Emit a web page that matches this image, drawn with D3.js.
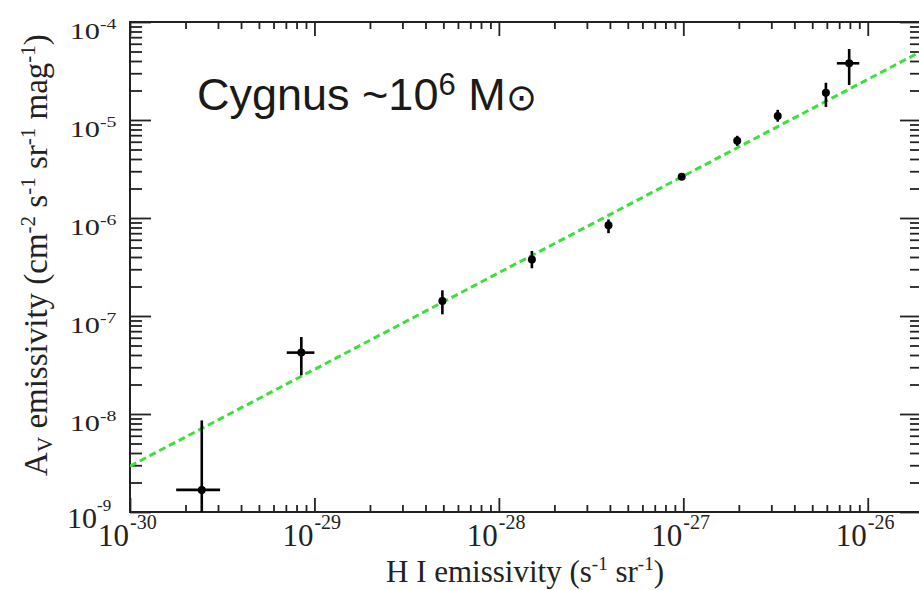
<!DOCTYPE html>
<html><head><meta charset="utf-8">
<script src="https://cdn.jsdelivr.net/npm/d3@7"></script>
<style>body{margin:0;background:#fff}svg{display:block}</style>
</head><body><svg id="c" width="919" height="590"></svg>
<script>
// ---- data ----
const xVals = [2.45e-30, 8.49e-30, 4.94e-29, 1.51e-28, 3.93e-28, 9.8e-28, 1.96e-27, 3.25e-27, 5.93e-27, 7.93e-27];
const yVals = [1.68e-9, 4.23e-8, 1.42e-7, 3.77e-7, 8.44e-7, 2.63e-6, 6.13e-6, 1.10e-5, 1.90e-5, 3.79e-5];
const yLo   = [1e-10, 2.48e-8, 1.04e-7, 3.07e-7, 7.0e-7, 2.44e-6, 5.45e-6, 9.6e-6, 1.36e-5, 2.27e-5];
const yHi   = [8.6e-9, 6.1e-8, 1.83e-7, 4.61e-7, 9.66e-7, 2.84e-6, 6.9e-6, 1.27e-5, 2.40e-5, 5.3e-5];
const xLo   = [1.78e-30, 7.08e-30, null, null, null, null, null, null, null, 6.8e-27];
const xHi   = [3.08e-30, 1.0e-29, null, null, null, null, null, null, null, 9.0e-27];
const fitX  = [1e-30, 1.92e-26];
const fitY  = [2.94e-9, 4.94e-5];
const xExponents = [-30, -29, -28, -27, -26];
const yExponents = [-9, -8, -7, -6, -5, -4];
const xDomain = [1e-30, 1.92e-26];
const yDomain = [1e-9, 1e-4];

// ---- layout ----
const mL = 130, mR = 920, mT = 22, mB = 512;
const x = d3.scaleLog().domain(xDomain).range([mL, mR]);
const y = d3.scaleLog().domain(yDomain).range([mB, mT]);
const svg = d3.select('#c');
const serif = "'Liberation Serif','Times New Roman',serif";
const sans = "'Liberation Sans',Arial,sans-serif";

svg.append('defs').append('clipPath').attr('id', 'clip')
  .append('rect').attr('x', mL).attr('y', mT).attr('width', mR - mL).attr('height', mB - mT);

function minors(dom) {
  const lo = Math.floor(Math.log10(dom[0]) + 1e-9), hi = Math.ceil(Math.log10(dom[1]) - 1e-9);
  const arr = [];
  for (let e = lo; e < hi; e++) for (let m = 2; m <= 9; m++) {
    const v = m * Math.pow(10, e);
    if (v >= dom[0] && v <= dom[1]) arr.push(v);
  }
  return arr;
}
const xMaj = xExponents.map(e => Math.pow(10, e)).filter(v => v <= xDomain[1]);
const yMaj = yExponents.map(e => Math.pow(10, e));
const xMin = minors(xDomain), yMin = minors(yDomain);

function drawAxis(gen, tr, vals, size) {
  const g = svg.append('g').attr('transform', tr)
    .call(gen.tickValues(vals).tickSize(size).tickFormat(''));
  g.select('.domain').remove();
  g.selectAll('line').attr('stroke', '#222').attr('stroke-width', 1.8);
}
drawAxis(d3.axisBottom(x), `translate(0,${mB})`, xMin, -7);
drawAxis(d3.axisBottom(x), `translate(0,${mB})`, xMaj, -14);
drawAxis(d3.axisTop(x), `translate(0,${mT})`, xMin, -7);
drawAxis(d3.axisTop(x), `translate(0,${mT})`, xMaj, -14);
drawAxis(d3.axisLeft(y), `translate(${mL},0)`, yMin, -12);
drawAxis(d3.axisLeft(y), `translate(${mL},0)`, yMaj, -21);
drawAxis(d3.axisRight(y), `translate(${mR},0)`, yMin, -10);
drawAxis(d3.axisRight(y), `translate(${mR},0)`, yMaj, -20);

svg.append('rect').attr('x', mL).attr('y', mT).attr('width', mR - mL).attr('height', mB - mT)
  .attr('fill', 'none').attr('stroke', '#222').attr('stroke-width', 2);

// ---- fit line ----
const plot = svg.append('g').attr('clip-path', 'url(#clip)');
plot.append('path')
  .attr('d', d3.line().x(d => x(d[0])).y(d => y(d[1]))(fitX.map((v, i) => [v, fitY[i]])))
  .attr('stroke', '#3ddf3d').attr('stroke-width', 3).attr('stroke-dasharray', '7,4').attr('fill', 'none');

// ---- error bars & points ----
const pts = xVals.map((v, i) => ({x: v, y: yVals[i], ylo: yLo[i], yhi: yHi[i], xlo: xLo[i], xhi: xHi[i]}));
plot.selectAll('.ey').data(pts).join('line').attr('class', 'ey')
  .attr('x1', d => x(d.x)).attr('x2', d => x(d.x)).attr('y1', d => y(d.ylo)).attr('y2', d => y(d.yhi))
  .attr('stroke', '#000').attr('stroke-width', 2.6);
plot.selectAll('.ex').data(pts.filter(d => d.xlo != null)).join('line').attr('class', 'ex')
  .attr('x1', d => x(d.xlo)).attr('x2', d => x(d.xhi)).attr('y1', d => y(d.y)).attr('y2', d => y(d.y))
  .attr('stroke', '#000').attr('stroke-width', 2.6);
plot.selectAll('circle').data(pts).join('circle')
  .attr('cx', d => x(d.x)).attr('cy', d => y(d.y)).attr('r', 4).attr('fill', '#000');

// ---- tick labels ----
xMaj.forEach((v, i) => {
  const px = x(v);
  svg.append('text').attr('x', px - 1).attr('y', 546).attr('text-anchor', 'end')
    .attr('font-family', serif).attr('font-size', 31).attr('fill', '#222').text('10');
  svg.append('text').attr('x', px).attr('y', 529)
    .attr('font-family', serif).attr('font-size', 20).attr('fill', '#222').text(String(xExponents[i]));
});
yMaj.forEach((v, i) => {
  const py = y(v);
  if (i === 0) {
    // bottom label is drawn larger in the reference
    svg.append('text').attr('x', 97).attr('y', 528).attr('text-anchor', 'end')
      .attr('font-family', serif).attr('font-size', 30).attr('fill', '#222').text('10');
    svg.append('text').attr('x', 97).attr('y', 511)
      .attr('font-family', serif).attr('font-size', 17).attr('fill', '#222').text(String(yExponents[i]));
    return;
  }
  const g = svg.append('g').attr('transform', `translate(100,${py}) scale(1.32,1)`);
  g.append('text').attr('x', 0).attr('y', 17).attr('text-anchor', 'end')
    .attr('font-family', serif).attr('font-size', 23).attr('fill', '#222').text('10');
  g.append('text').attr('x', 0).attr('y', 7)
    .attr('font-family', serif).attr('font-size', 15).attr('fill', '#222').text(String(yExponents[i]));
});

// ---- axis titles ----
const xt = svg.append('text').attr('x', 525).attr('y', 582).attr('text-anchor', 'middle')
  .attr('font-family', serif).attr('font-size', 31).attr('fill', '#222');
xt.append('tspan').text('H I emissivity (s');
xt.append('tspan').attr('font-size', 19).attr('dy', -12).text('-1');
xt.append('tspan').attr('dy', 12).text(' sr');
xt.append('tspan').attr('font-size', 19).attr('dy', -12).text('-1');
xt.append('tspan').attr('dy', 12).text(')');

const yt = svg.append('text').attr('transform', 'translate(47,255) rotate(-90)').attr('text-anchor', 'middle')
  .attr('font-family', serif).attr('font-size', 33).attr('fill', '#222');
yt.append('tspan').text('A');
yt.append('tspan').attr('font-size', 21).attr('dy', 5).text('V');
yt.append('tspan').attr('dy', -5).text(' emissivity (cm');
[['-2', ' s'], ['-1', ' sr'], ['-1', ' mag'], ['-1', ')']].forEach(([s, t]) => {
  yt.append('tspan').attr('font-size', 21).attr('dy', -12).text(s);
  yt.append('tspan').attr('dy', 12).text(t);
});

// ---- annotation ----
const an = svg.append('text').attr('x', 197).attr('y', 110)
  .attr('font-family', sans).attr('font-size', 45).attr('fill', '#1a1a1a');
an.append('tspan').text('Cygnus ~10');
an.append('tspan').attr('font-size', 31).attr('dy', -15).text('6');
an.append('tspan').attr('dy', 15).text(' M');
an.append('tspan').attr('font-size', 37).text('⊙');
</script></body></html>
